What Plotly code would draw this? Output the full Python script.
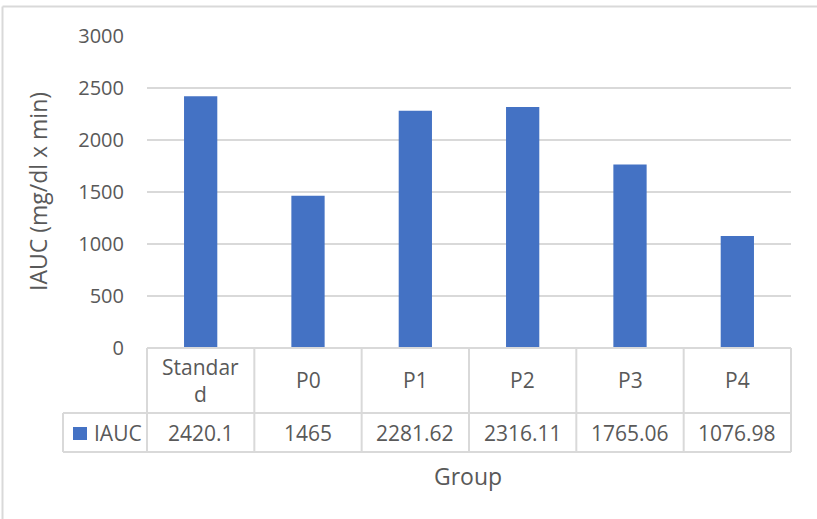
import plotly.graph_objects as go

# IAUC per group
groups = ["Standard", "P0", "P1", "P2", "P3", "P4"]
iauc = [2420.1, 1465, 2281.62, 2316.11, 1765.06, 1076.98]
series_name = "IAUC"
y_ticks = [0, 500, 1000, 1500, 2000, 2500, 3000]

W, H = 817, 519
L, R, T, B = 147, 26, 36, 171
PW, PH = W - L - R, H - T - B

FONT = "Open Sans"
TXT = "#595959"
GRID = "#d9d9d9"
BAR = "#4472C4"
FS_TICK = 20
FS_TABLE = 21
FS_TITLE = 23


def px(x):
    return (x - L) / PW


def py(y):
    return (H - B - y) / PH


def wrap(name, n=7):
    return name if len(name) <= n else name[:n] + "<br>" + name[n:]


fig = go.Figure(
    go.Bar(x=groups, y=iauc, width=0.31, marker=dict(color=BAR, line=dict(width=0)),
           name=series_name, showlegend=False)
)

shapes = []
line = dict(color=GRID, width=2)
# data table grid below the axis
for i in range(len(groups) + 1):
    shapes.append(dict(type="line", xref="paper", yref="paper",
                       x0=i / len(groups), x1=i / len(groups),
                       y0=0, y1=py(452), line=line))
shapes.append(dict(type="line", xref="paper", yref="paper",
                   x0=px(63), x1=px(63), y0=py(413), y1=py(452), line=line))
for yy in (413, 452):
    shapes.append(dict(type="line", xref="paper", yref="paper",
                       x0=px(63), x1=1, y0=py(yy), y1=py(yy), line=line))
shapes.append(dict(type="line", xref="paper", yref="paper",
                   x0=0, x1=1, y0=0, y1=0, line=line))
# legend key
shapes.append(dict(type="rect", xref="paper", yref="paper",
                   x0=px(73), x1=px(87), y0=py(440), y1=py(427),
                   fillcolor=BAR, line=dict(width=0)))
# chart frame
shapes.append(dict(type="line", xref="paper", yref="paper",
                   x0=px(2.5), x1=px(W), y0=py(6.5), y1=py(6.5), line=line))
shapes.append(dict(type="line", xref="paper", yref="paper",
                   x0=px(2.5), x1=px(2.5), y0=py(6.5), y1=py(H), line=line))

ann = []
for g, v in zip(groups, iauc):
    ann.append(dict(x=g, xref="x", y=py(380), yref="paper", text=wrap(g),
                    showarrow=False, font=dict(family=FONT, size=FS_TABLE, color=TXT),
                    xanchor="center", yanchor="middle"))
    ann.append(dict(x=g, xref="x", y=py(433), yref="paper", text=f"{v:g}",
                    showarrow=False, font=dict(family=FONT, size=FS_TABLE, color=TXT),
                    xanchor="center", yanchor="middle"))
ann.append(dict(x=px(92), xref="paper", y=py(433), yref="paper", text=series_name,
                showarrow=False, font=dict(family=FONT, size=FS_TABLE, color=TXT),
                xanchor="left", yanchor="middle"))
ann.append(dict(x=px(468), xref="paper", y=py(476), yref="paper", text="Group",
                showarrow=False, font=dict(family=FONT, size=FS_TITLE, color=TXT),
                xanchor="center", yanchor="middle"))
ann.append(dict(x=px(38), xref="paper", y=0.5, yref="paper", text="IAUC (mg/dl x min)",
                textangle=-90, showarrow=False, font=dict(family=FONT, size=FS_TITLE, color=TXT),
                xanchor="center", yanchor="middle"))

fig.update_layout(
    width=W, height=H,
    margin=dict(l=L, r=R, t=T, b=B),
    paper_bgcolor="white", plot_bgcolor="white",
    font=dict(family=FONT, size=FS_TICK, color=TXT),
    shapes=shapes, annotations=ann,
    xaxis=dict(showticklabels=False, showgrid=False, zeroline=False,
               showline=False, ticks="", range=[-0.5, len(groups) - 0.5]),
    yaxis=dict(range=[0, 3000], tickvals=y_ticks, showgrid=True, gridcolor=GRID,
               gridwidth=2, zeroline=False, showline=False, ticks="",
               ticklabelstandoff=22, tickfont=dict(family=FONT, size=FS_TICK, color=TXT)),
    bargap=0.7,
)

fig.write_html("out.html")
